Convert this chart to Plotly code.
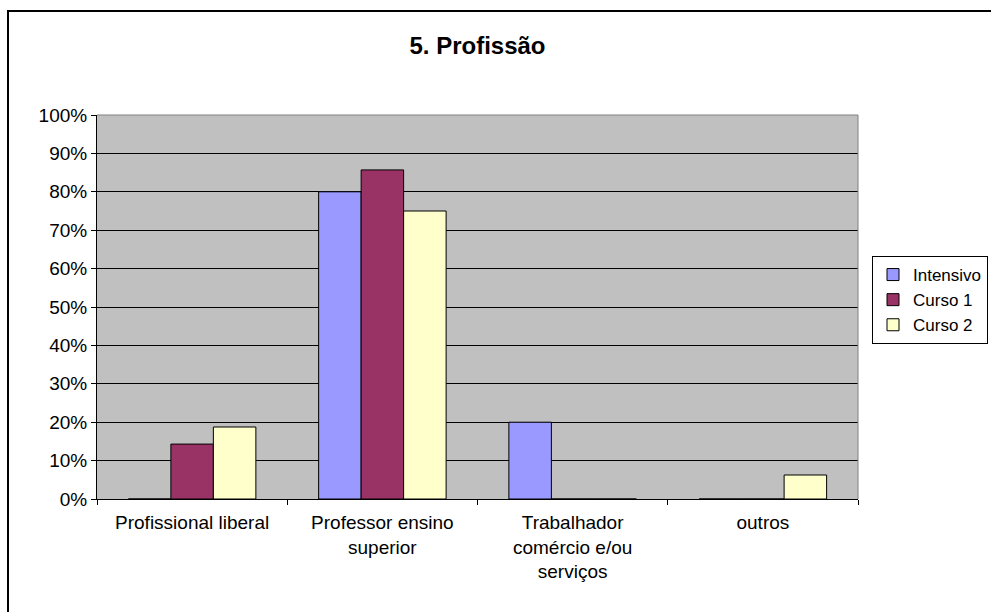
import plotly.graph_objects as go

categories = ["Profissional liberal", "Professor ensino<br>superior",
              "Trabalhador<br>comércio e/ou<br>serviços", "outros"]
series_names = ["Intensivo", "Curso 1", "Curso 2"]
intensivo = [0.0, 0.80, 0.20, 0.0]
curso1 = [0.143, 0.857, 0.0, 0.0]
curso2 = [0.1875, 0.75, 0.0, 0.0625]
colors = ["#9999FF", "#993366", "#FFFFCC"]
y_ticks = [i / 10 for i in range(11)]
y_ticklabels = [f"{i*10}%" for i in range(11)]
title_text = "5. Profissão"

FONT = "Liberation Sans, Arial, sans-serif"

fig = go.Figure()
for name, vals, col in zip(series_names, [intensivo, curso1, curso2], colors):
    fig.add_trace(go.Bar(
        x=categories, y=vals, name=name,
        marker=dict(color=col, line=dict(color="black", width=1)),
    ))

fig.update_layout(
    width=991, height=612,
    margin=dict(l=97, r=133, t=115, b=113, autoexpand=False),
    paper_bgcolor="white",
    plot_bgcolor="#C0C0C0",
    barmode="group", bargap=0.33, bargroupgap=0,
    font=dict(family=FONT, size=19, color="black"),
    title=dict(text=f"<b>{title_text}</b>", x=0.5, xanchor="center",
               xref="paper", y=1 - 46 / 612, yanchor="middle",
               font=dict(family=FONT, size=24, color="black")),
    showlegend=True,
    legend=dict(x=(872 - 97) / 761, xanchor="left", y=(499 - 256) / 384, yanchor="top",
                bordercolor="black", borderwidth=1, bgcolor="white",
                font=dict(family=FONT, size=17, color="black"),
                itemwidth=30, itemclick=False, tracegroupgap=0),
    xaxis=dict(type="category", tickson="boundaries", ticks="outside", ticklen=5,
               tickcolor="black", showline=True, linecolor="black", linewidth=1,
               showgrid=False, tickfont=dict(size=19), ticklabelstandoff=6),
    yaxis=dict(range=[0, 1], tickvals=y_ticks, ticktext=y_ticklabels,
               ticks="outside", ticklen=5, tickcolor="black",
               showline=True, linecolor="black", linewidth=1,
               showgrid=True, gridcolor="black", gridwidth=1,
               zeroline=False, tickfont=dict(size=19)),
    shapes=[
        dict(type="rect", xref="paper", yref="paper",
             x0=(8 - 97) / 761, x1=1.2, y0=-0.35, y1=(499 - 11) / 384,
             line=dict(color="black", width=2), fillcolor="rgba(0,0,0,0)", layer="below"),
        dict(type="line", xref="paper", yref="paper", x0=0, x1=1, y0=1, y1=1,
             line=dict(color="#808080", width=1)),
        dict(type="line", xref="paper", yref="paper", x0=1, x1=1, y0=0, y1=1,
             line=dict(color="#808080", width=1)),
    ],
)

fig.write_html("out.html")
